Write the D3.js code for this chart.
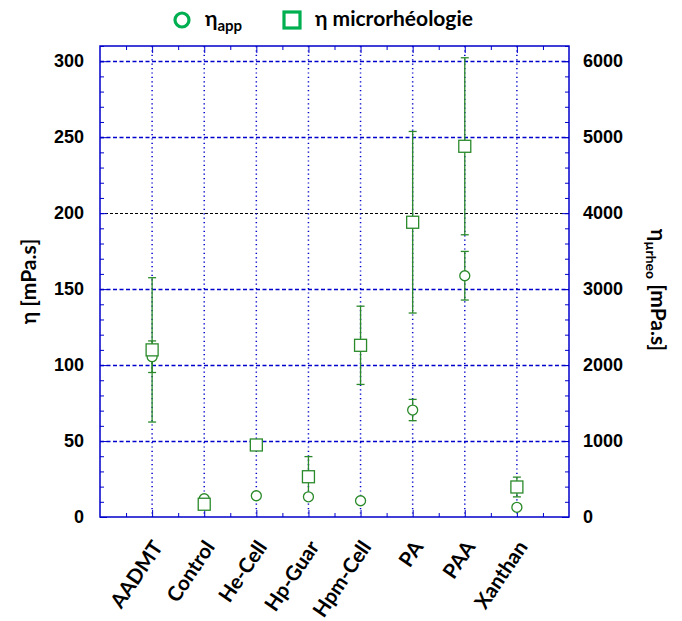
<!DOCTYPE html>
<html lang="fr">
<head>
<meta charset="utf-8">
<title>Viscosité</title>
<script src="https://cdn.jsdelivr.net/npm/d3@7"></script>
<style>
  body { margin: 0; background: #fff; }
  .lbl { font-family: Lato, "Open Sans", sans-serif; font-weight: 700; }
  .num { font-family: "Liberation Sans", Arial, sans-serif; font-weight: 700; font-size: 18px; }
</style>
</head>
<body>
<svg width="682" height="621"></svg>
<script>
// catégories et valeurs
var categories = ["AADMT", "Control", "He-Cell", "Hp-Guar", "Hpm-Cell", "PA", "PAA", "Xanthan"];
var etaApp     = [105.5, 12, 14, 13.3, 10.7, 70.4, 158.8, 6.4];     // mPa.s, axe gauche
var etaAppErr  = [10.4, 0, 0, 0, 0, 7, 16, 0];
var etaMicro    = [2200, 168, 948, 530, 2260, 3880, 4880, 395];     // mPa.s, axe droit
var etaMicroErr = [950, 0, 0, 265, 515, 1195, 1165, 130];
var leftTicks  = [0, 50, 100, 150, 200, 250, 300];
var rightTicks = [0, 1000, 2000, 3000, 4000, 5000, 6000];

var svg = d3.select("svg");
var pLeft = 100, pRight = 569, pTop = 46, pBottom = 517;
var blue = "#0000cc", green = "#2a8a2a", legendGreen = "#00b050";

var x = d3.scaleLinear().domain([0, 9]).range([pLeft, pRight]);
var y = d3.scaleLinear().domain([0, 310]).range([pBottom, pTop]);
var y2 = d3.scaleLinear().domain([0, 6200]).range([pBottom, pTop]);

// grille
var grid = svg.append("g");
grid.selectAll("line.h").data(leftTicks.filter(function(d) { return d > 0; }))
  .enter().append("line")
  .attr("x1", pLeft).attr("x2", pRight)
  .attr("y1", function(d) { return Math.round(y(d)) + 0.5; }).attr("y2", function(d) { return Math.round(y(d)) + 0.5; })
  .attr("stroke", function(d) { return d == 200 ? "#000" : blue; })
  .attr("stroke-width", function(d) { return d == 200 ? 1 : 1.5; })
  .attr("stroke-dasharray", function(d) { return d == 200 ? "3,2" : "4,2.5"; });
grid.selectAll("line.v").data(d3.range(1, 9))
  .enter().append("line")
  .attr("x1", function(d) { return x(d); }).attr("x2", function(d) { return x(d); })
  .attr("y1", pTop).attr("y2", pBottom)
  .attr("stroke", blue).attr("stroke-width", 1.5)
  .attr("stroke-dasharray", "1.2,3.2");

// axes (graduations vers l'intérieur)
function minor(g) { g.selectAll("text").remove(); g.select(".domain").remove(); }
svg.append("g").attr("transform", "translate(" + pLeft + ",0)")
  .call(d3.axisLeft(y).tickValues(d3.range(0, 311, 10)).tickSizeInner(-4).tickSizeOuter(0))
  .call(minor).selectAll("line").attr("stroke", blue);
svg.append("g").attr("class", "num").attr("transform", "translate(" + pLeft + ",0)")
  .call(d3.axisLeft(y).tickValues(leftTicks).tickSizeInner(-7).tickSizeOuter(0).tickPadding(16))
  .call(function(g) { g.select(".domain").remove(); g.selectAll("line").attr("stroke", blue);
    g.selectAll("text").attr("font-family", null).attr("font-size", null).attr("fill", "#000"); });

svg.append("g").attr("transform", "translate(" + pRight + ",0)")
  .call(d3.axisRight(y2).tickValues(d3.range(0, 6201, 200)).tickSizeInner(-4).tickSizeOuter(0))
  .call(minor).selectAll("line").attr("stroke", blue);
svg.append("g").attr("class", "num").attr("transform", "translate(" + pRight + ",0)")
  .call(d3.axisRight(y2).tickValues(rightTicks).tickFormat(d3.format("d"))
    .tickSizeInner(-7).tickSizeOuter(0).tickPadding(14))
  .call(function(g) { g.select(".domain").remove(); g.selectAll("line").attr("stroke", blue);
    g.selectAll("text").attr("font-family", null).attr("font-size", null).attr("fill", "#000"); });

svg.append("g").attr("transform", "translate(0," + pTop + ")")
  .call(d3.axisTop(x).tickValues(d3.range(0.5, 9, 1)).tickSizeInner(-4).tickSizeOuter(0))
  .call(minor).selectAll("line").attr("stroke", blue);
svg.append("g").attr("transform", "translate(0," + pTop + ")")
  .call(d3.axisTop(x).tickValues(d3.range(1, 9)).tickSizeInner(-7).tickSizeOuter(0))
  .call(minor).selectAll("line").attr("stroke", blue);
svg.append("g").attr("transform", "translate(0," + pBottom + ")")
  .call(d3.axisBottom(x).tickValues(d3.range(0.5, 9, 1)).tickSizeInner(-4).tickSizeOuter(0))
  .call(minor).selectAll("line").attr("stroke", blue);
svg.append("g").attr("transform", "translate(0," + pBottom + ")")
  .call(d3.axisBottom(x).tickValues(d3.range(1, 9)).tickSizeInner(-7).tickSizeOuter(0)
    .tickFormat(function(d) { return categories[d - 1]; }))
  .call(function(g) {
    g.select(".domain").remove();
    g.selectAll("line").attr("stroke", blue);
    g.selectAll("text")
      .attr("class", "lbl").attr("font-size", 20.5).attr("fill", "#000")
      .attr("text-anchor", "end").attr("y", 0).attr("dy", 0)
      .attr("transform", "translate(11,30) rotate(-56)");
  });

// cadre
svg.append("rect").attr("x", pLeft).attr("y", pTop)
  .attr("width", pRight - pLeft).attr("height", pBottom - pTop)
  .attr("fill", "none").attr("stroke", blue).attr("stroke-width", 1.5);

// barres d'erreur
function errorBars(vals, errs, scale) {
  var g = svg.append("g").attr("stroke", green).attr("stroke-width", 1.3);
  vals.forEach(function(v, i) {
    if (!errs[i]) return;
    var cx = x(i + 1), y0 = scale(v - errs[i]), y1 = scale(v + errs[i]);
    g.append("line").attr("x1", cx).attr("x2", cx).attr("y1", y0).attr("y2", y1);
    g.append("line").attr("x1", cx - 4).attr("x2", cx + 4).attr("y1", y0).attr("y2", y0);
    g.append("line").attr("x1", cx - 4).attr("x2", cx + 4).attr("y1", y1).attr("y2", y1);
  });
}
errorBars(etaApp, etaAppErr, y);
errorBars(etaMicro, etaMicroErr, y2);

// points
svg.append("g").selectAll("circle").data(etaApp).enter().append("circle")
  .attr("cx", function(d, i) { return x(i + 1); })
  .attr("cy", function(d) { return y(d); })
  .attr("r", 5).attr("fill", "#fff").attr("stroke", green).attr("stroke-width", 1.3);
svg.append("g").selectAll("rect").data(etaMicro).enter().append("rect")
  .attr("x", function(d, i) { return x(i + 1) - 6; })
  .attr("y", function(d) { return y2(d) - 6; })
  .attr("width", 12).attr("height", 12)
  .attr("fill", "#fff").attr("stroke", green).attr("stroke-width", 1.3);

// titres des axes
svg.append("text").attr("class", "lbl").attr("font-size", 21)
  .attr("text-anchor", "middle")
  .attr("transform", "translate(36," + ((pTop + pBottom) / 2) + ") rotate(-90)")
  .text("η [mPa.s]");
var rt = svg.append("text").attr("class", "lbl").attr("font-size", 21)
  .attr("text-anchor", "middle")
  .attr("transform", "translate(651,290) rotate(90)");
rt.append("tspan").text("η");
rt.append("tspan").attr("font-size", 14).attr("dy", 5).text("µrheo");
rt.append("tspan").attr("dy", -5).text(" [mPa.s]");

// légende
var leg = svg.append("g");
leg.append("circle").attr("cx", 182).attr("cy", 20).attr("r", 7)
  .attr("fill", "none").attr("stroke", legendGreen).attr("stroke-width", 3.2);
var t1 = leg.append("text").attr("class", "lbl").attr("font-size", 21).attr("x", 205).attr("y", 26);
t1.append("tspan").text("η");
t1.append("tspan").attr("font-size", 15).attr("dy", 5).text("app");
leg.append("rect").attr("x", 284).attr("y", 12).attr("width", 16).attr("height", 16)
  .attr("fill", "none").attr("stroke", legendGreen).attr("stroke-width", 3.2);
leg.append("text").attr("class", "lbl").attr("font-size", 21).attr("x", 315).attr("y", 26)
  .text("η microrhéologie");
</script>
</body>
</html>
